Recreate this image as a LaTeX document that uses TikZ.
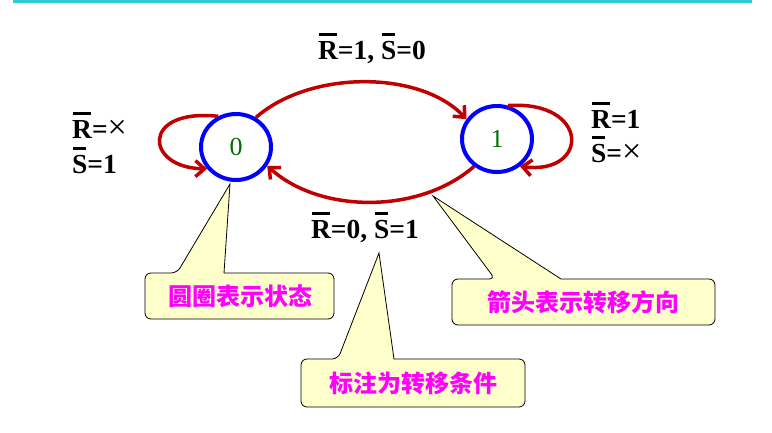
\documentclass[tikz,border=0pt]{standalone}
\usepackage{fontspec}
\setmainfont{Liberation Serif}
\newfontfamily\cjk{Noto Sans CJK SC}
\usetikzlibrary{arrows.meta,shapes.geometric}
\definecolor{teal2}{RGB}{51,204,204}
\definecolor{arrred}{RGB}{192,0,0}
\definecolor{stgreen}{RGB}{0,112,0}
\definecolor{callfill}{RGB}{255,255,204}
\definecolor{callmag}{RGB}{255,0,255}
\newcommand\ob[1]{\setbox0\hbox{#1}\rlap{\kern0.04em\rule[0.88em]{\dimexpr\wd0-0.08em\relax}{0.1em}}\box0}
\newcommand\tms{{\mdseries\fontsize{34}{34}\selectfont ×}}
\begin{document}
\begin{tikzpicture}[x=1pt,y=-1pt,
 state/.style={ellipse,draw=blue,line width=4pt,minimum width=70pt,minimum height=66pt,inner sep=0pt,text=stgreen,font=\fontsize{26}{26}\selectfont},
 trans/.style={draw=arrred,line width=3.5pt,-{Straight Barb[length=9pt,width=16pt]}},
 cond/.style={font=\bfseries\fontsize{27.5}{28}\selectfont,inner sep=0pt},
 callbox/.style={fill=callfill,draw=black,line width=0.8pt},
 calltext/.style={font=\cjk\bfseries\fontsize{24}{24}\selectfont,text=callmag,inner sep=0pt}]
\useasboundingbox[fill=white] (0,0) rectangle (772,433);
\draw[teal2,line width=2.6pt] (13,1.3) -- (752,1.3);

% callouts
\path[callbox] (145,296) [rounded corners=6pt] -- (145,273) -- (177,273) [sharp corners] -- (230,184) -- (224,273) [rounded corners=6pt] -- (334,273) -- (334,319) -- (145,319) -- cycle;
\path[callbox] (452,302) [rounded corners=6pt] -- (452,279) -- (495,279) [sharp corners] -- (433,196) -- (561,279) [rounded corners=6pt] -- (715,279) -- (715,325) -- (452,325) -- cycle;
\path[callbox] (301,383) [rounded corners=6pt] -- (301,359) -- (338,359) [sharp corners] -- (379,253) -- (394,359) [rounded corners=6pt] -- (525,359) -- (525,407) -- (301,407) -- cycle;
\node[calltext] (c1) at (240,296) {圆圈表示状态};
\node[calltext] (c2) at (583,302) {箭头表示转移方向};
\node[calltext] (c3) at (413,383) {标注为转移条件};

% states
\node[state] (s0) at (236,147) {0};
\node[state] (s1) at (497,139) {1};

% transitions
\draw[trans] (s0.56) .. controls (310,70) and (420,70) .. (s1.147);
\draw[trans] (s1.230) .. controls (420,214) and (320,214) .. (s0.329);
\draw[trans] (s0.120) .. controls (140,108) and (145,168) .. (s0.217);
\draw[trans] (s1.72) .. controls (590,100) and (590,175) .. (s1.310);

% labels
\node[cond,anchor=base] (l01) at (372,60) {\ob{R}=1, \ob{S}=0};
\node[cond,anchor=base] (l10) at (365,239) {\ob{R}=0, \ob{S}=1};
\node[cond,anchor=base west] (l00a) at (72,139) {\ob{R}=\tms};
\node[cond,anchor=base west] (l00b) at (72,174) {\ob{S}=1};
\node[cond,anchor=base west] (l11a) at (591,129) {\ob{R}=1};
\node[cond,anchor=base west] (l11b) at (591,163) {\ob{S}=\tms};
\end{tikzpicture}
\end{document}
